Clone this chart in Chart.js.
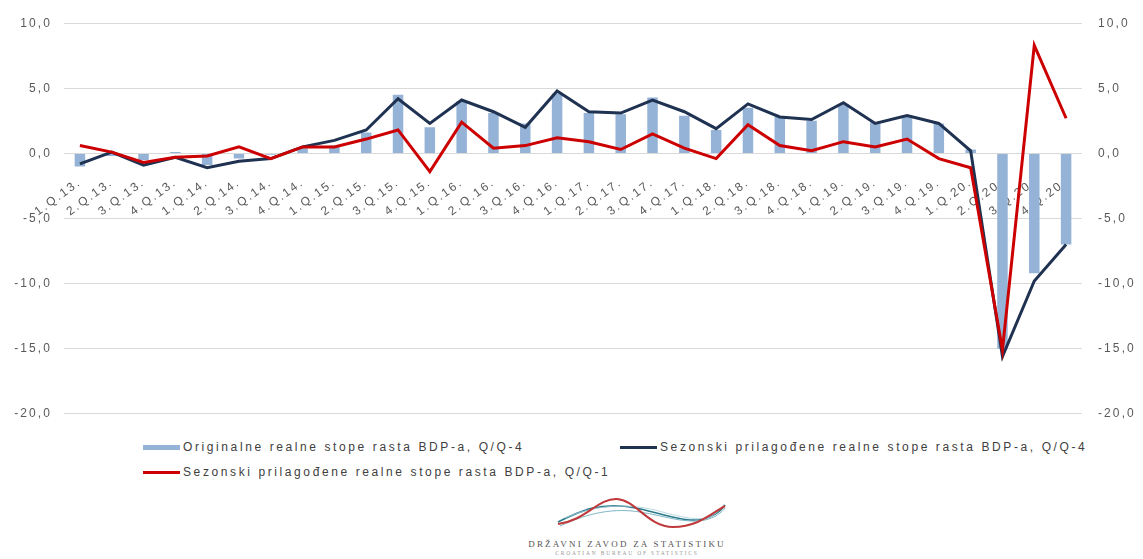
<!DOCTYPE html>
<html>
<head>
<meta charset="utf-8">
<script src="https://cdn.jsdelivr.net/npm/chart.js@4/dist/chart.umd.min.js"></script>
<style>
  body { margin: 0; background: #fff; font-family: "Liberation Sans", Arial, sans-serif; }
  .wrap { position: relative; width: 1143px; height: 559px; }
  canvas { position: absolute; left: 0; top: 0; }
  .leg { position: absolute; font-size: 12px; letter-spacing: 2.6px; color: #404040; white-space: nowrap; line-height: 14px; }
  .sw { position: absolute; width: 37px; }
  .logo { position: absolute; left: 0; top: 480px; }
</style>
</head>
<body>
<div class="wrap">
  <canvas id="myChart" width="1143" height="437"></canvas>

  <div class="sw" style="left:143px; top:445px; height:5px; background:#95B3D7"></div>
  <div class="leg" style="left:183px; top:440px">Originalne realne stope rasta BDP-a, Q/Q-4</div>
  <div class="sw" style="left:620px; top:446px; height:3px; background:#1F3251"></div>
  <div class="leg" style="left:660px; top:440px">Sezonski prilagođene realne stope rasta BDP-a, Q/Q-4</div>
  <div class="sw" style="left:143px; top:471px; height:3px; background:#CC0000"></div>
  <div class="leg" style="left:183px; top:465px">Sezonski prilagođene realne stope rasta BDP-a, Q/Q-1</div>

  <svg class="logo" width="1143" height="79" viewBox="0 480 1143 79">
    <path d="M558 522 C585 508, 600 505, 620 506 C645 507, 665 518, 690 520 C705 521, 718 515, 725 505" fill="none" stroke="#2B7A8C" stroke-width="1.6"/>
    <path d="M560 526 C590 512, 615 508, 640 512 C665 516, 685 524, 705 520 C715 518, 722 512, 725 508" fill="none" stroke="#7FB6C4" stroke-width="1"/>
    <path d="M565 518 C595 505, 625 503, 655 510 C680 517, 700 522, 712 516 C718 512, 722 508, 724 504" fill="none" stroke="#A9CFD8" stroke-width="0.8"/>
    <path d="M558 524 C585 521, 598 498, 617 499 C636 500, 648 527, 673 527 C698 527, 712 513, 725 506" fill="none" stroke="#C0393B" stroke-width="2"/>
    <text x="627" y="547" text-anchor="middle" font-family="Liberation Serif, serif" font-size="9" letter-spacing="2.2" fill="#555">DRŽAVNI ZAVOD ZA STATISTIKU</text>
    <text x="627" y="555" text-anchor="middle" font-family="Liberation Serif, serif" font-size="5.5" letter-spacing="1.8" fill="#999">CROATIAN BUREAU OF STATISTICS</text>
  </svg>
</div>

<script>
const quarters = [
  "1.Q.13.", "2.Q.13.", "3.Q.13.", "4.Q.13.",
  "1.Q.14.", "2.Q.14.", "3.Q.14.", "4.Q.14.",
  "1.Q.15.", "2.Q.15.", "3.Q.15.", "4.Q.15.",
  "1.Q.16.", "2.Q.16.", "3.Q.16.", "4.Q.16.",
  "1.Q.17.", "2.Q.17.", "3.Q.17.", "4.Q.17.",
  "1.Q.18.", "2.Q.18.", "3.Q.18.", "4.Q.18.",
  "1.Q.19.", "2.Q.19.", "3.Q.19.", "4.Q.19.",
  "1.Q.20.", "2.Q.20.", "3.Q.20.", "4.Q.20."
];

// Originalne realne stope rasta BDP-a, Q/Q-4
const originalQ4 = [
  -1.0, -0.2, -0.5, 0.1,
  -0.9, -0.4, -0.1, 0.4,
  0.6, 1.6, 4.5, 2.0,
  4.0, 3.1, 2.3, 4.6,
  3.1, 3.0, 4.3, 2.9,
  1.8, 3.5, 2.8, 2.5,
  3.8, 2.4, 2.8, 2.3,
  0.3, -15.0, -9.2, -7.0
];

// Sezonski prilagodene, Q/Q-4
const seasonalQ4 = [
  -0.8, 0.1, -0.9, -0.3,
  -1.1, -0.6, -0.4, 0.5,
  1.0, 1.8, 4.2, 2.3,
  4.1, 3.2, 2.0, 4.8,
  3.2, 3.1, 4.1, 3.2,
  1.9, 3.8, 2.8, 2.6,
  3.9, 2.3, 2.9, 2.3,
  0.2, -15.6, -9.8, -7.0
];

// Sezonski prilagodene, Q/Q-1
const seasonalQ1 = [
  0.6, 0.1, -0.7, -0.3,
  -0.2, 0.5, -0.4, 0.5,
  0.5, 1.1, 1.8, -1.4,
  2.4, 0.4, 0.6, 1.2,
  0.9, 0.3, 1.5, 0.4,
  -0.4, 2.2, 0.6, 0.2,
  0.9, 0.5, 1.1, -0.4,
  -1.1, -15.1, 8.3, 2.7
];

const yMin = -20;
const yMax = 10;
const yStep = 5;

const tickFont = {family: "'Liberation Sans', Arial, sans-serif", size: 12};
const tickColor = "#595959";

function commaLabel(v){
  return v.toFixed(1).replace(".", ",");
}

// the source picture is stretched sideways, so space out the letters
const spacing = {
  id: "spacing",
  beforeLayout(chart){ chart.ctx.letterSpacing = "2.1px"; },
  beforeDraw(chart){ chart.ctx.letterSpacing = "2.1px"; }
};

const ctx = document.getElementById("myChart");

new Chart(ctx, {
  type: "bar",
  data: {
    labels: quarters,
    datasets: [
      {
        type: "line",
        label: "Sezonski prilagođene realne stope rasta BDP-a, Q/Q-1",
        data: seasonalQ1,
        borderColor: "#CC0000",
        borderWidth: 3,
        pointRadius: 0,
        tension: 0,
        order: 1
      },
      {
        type: "line",
        label: "Sezonski prilagođene realne stope rasta BDP-a, Q/Q-4",
        data: seasonalQ4,
        borderColor: "#1F3251",
        borderWidth: 3,
        pointRadius: 0,
        tension: 0,
        order: 2
      },
      {
        label: "Originalne realne stope rasta BDP-a, Q/Q-4",
        data: originalQ4,
        backgroundColor: "#95B3D7",
        barPercentage: 0.33,
        categoryPercentage: 1,
        order: 3
      }
    ]
  },
  options: {
    responsive: false,
    animation: false,
    layout: {padding: {top: 22, bottom: 10, left: 0, right: 0}},
    plugins: {
      legend: {display: false},
      tooltip: {enabled: false}
    },
    scales: {
      x: {
        position: {y: 0},
        grid: {display: false},
        border: {display: false},
        ticks: {
          autoSkip: false,
          minRotation: 36,
          maxRotation: 36,
          padding: 14,
          color: tickColor,
          font: tickFont
        },
        afterFit(scale){ scale.height = 0; }
      },
      y: {
        position: "left",
        min: yMin,
        max: yMax,
        grid: {color: "#D9D9D9", lineWidth: 1, drawTicks: false},
        border: {display: false},
        ticks: {
          stepSize: yStep,
          padding: 12,
          color: tickColor,
          font: tickFont,
          callback: commaLabel
        },
        afterFit(scale){ scale.width = 64; }
      },
      y2: {
        position: "right",
        min: yMin,
        max: yMax,
        grid: {display: false, drawTicks: false},
        border: {display: false},
        ticks: {
          stepSize: yStep,
          padding: 16,
          color: tickColor,
          font: tickFont,
          callback: commaLabel
        },
        afterFit(scale){ scale.width = 61; }
      }
    }
  },
  plugins: [spacing]
});
</script>
</body>
</html>
